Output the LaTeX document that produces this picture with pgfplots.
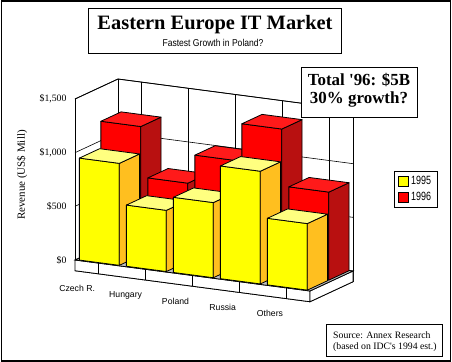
\documentclass[border=0pt]{standalone}
\usepackage{graphicx}
\usepackage{pgfplots}
\pgfplotsset{compat=1.18}
\usepackage{fontspec}
\setmainfont{Liberation Serif}
\setsansfont{Liberation Sans}
\definecolor{Yfront}{HTML}{FFFF00}
\definecolor{Ytop}{HTML}{FFFF80}
\definecolor{Yside}{HTML}{FFBF1F}
\definecolor{Rfront}{HTML}{FF0000}
\definecolor{Rtop}{HTML}{FF1A1A}
\definecolor{Rside}{HTML}{B81010}
\definecolor{Floor}{HTML}{C0C0C0}
% cuboid: x0 x1 y0 y1 value colourset
\newcommand{\cuboid}[6]{%
 \addplot3[fill=#6front,draw=black,line width=0.8pt,line join=round,forget plot] coordinates {(#1,#3,0) (#2,#3,0) (#2,#3,#5) (#1,#3,#5)} --cycle;
 \addplot3[fill=#6side,draw=black,line width=0.8pt,line join=round,forget plot] coordinates {(#2,#3,0) (#2,#4,0) (#2,#4,#5) (#2,#3,#5)} --cycle;
 \addplot3[fill=#6top,draw=black,line width=0.8pt,line join=round,forget plot] coordinates {(#1,#3,#5) (#2,#3,#5) (#2,#4,#5) (#1,#4,#5)} --cycle;
}
\begin{document}
\begin{tikzpicture}
\useasboundingbox (0,0) rectangle (452bp,362bp);
\fill[white] (0,0) rectangle (452bp,362bp);
\begin{axis}[
 anchor=origin, at={(98.5bp,98.9bp)},
 x={(47bp,-6.2bp)}, y={(43bp,20bp)}, z={(0bp,0.10733bp)},
 xmin=-0.5, xmax=4.5, ymin=0, ymax=1, zmin=-100, zmax=1500,
 clip=false,
 xtick={0,1,2,3,4}, xticklabels={Czech R.,Hungary,Poland,Russia,Others},
 ytick=\empty,
 ztick={0,500,1000,1500},
 zticklabels={{\$0},{\$500},{\$1,000},{\$1,500}},
 zmajorgrids, grid style={black, line width=0.6pt},
 axis line style={black, line width=0.8pt},
 major tick length=0pt,
 xticklabel style={font=\sffamily\fontsize{8.7}{10}\selectfont, anchor=north east, yshift=-8bp},
 zticklabel style={font=\fontsize{9.8}{11}\selectfont, anchor=east, xshift=-5bp},
 legend style={at={(axis cs:6.287,0,1221)}, anchor=north west, draw=black, line width=0.8pt,
   font=\sffamily\fontsize{12}{13}\selectfont, inner xsep=4bp, inner ysep=3bp, row sep=2bp, cells={anchor=west}},
 legend image code/.code={\draw[#1, line width=0.8pt] (0bp,-5bp) rectangle (10bp,5bp);},
]
% back wall vertical lines at category centres
\pgfplotsinvokeforeach{0,1,2,3,4}{
 \addplot3[black, line width=0.6pt, forget plot] coordinates {(#1,1,0) (#1,1,1500)};
}
% floor slab
\addplot3[fill=white, draw=black, line width=0.8pt, forget plot] coordinates {(-0.5,0,-100) (4.5,0,-100) (4.5,0,0) (-0.5,0,0)} --cycle;
\addplot3[fill=white, draw=black, line width=0.8pt, forget plot] coordinates {(4.5,0,-100) (4.5,1,-100) (4.5,1,0) (4.5,0,0)} --cycle;
\addplot3[fill=Floor, draw=black, line width=0.8pt, forget plot] coordinates {(-0.5,0,0) (4.5,0,0) (4.5,1,0) (-0.5,1,0)} --cycle;
\pgfplotsinvokeforeach{0,1,2,3,4}{
 \addplot3[black, line width=0.6pt, forget plot] coordinates {(#1,0,-100) (#1,0,0)};
}
% 1996 (back row)
\cuboid{-0.425}{0.425}{0.52}{0.99}{1200}{R}
\cuboid{0.575}{1.425}{0.52}{0.99}{730}{R}
\cuboid{1.575}{2.425}{0.52}{0.99}{1000}{R}
\cuboid{2.575}{3.425}{0.52}{0.99}{1350}{R}
\cuboid{3.575}{4.425}{0.52}{0.99}{820}{R}
% 1995 (front row)
\cuboid{-0.425}{0.425}{0.02}{0.49}{950}{Y}
\cuboid{0.575}{1.425}{0.02}{0.49}{570}{Y}
\cuboid{1.575}{2.425}{0.02}{0.49}{700}{Y}
\cuboid{2.575}{3.425}{0.02}{0.49}{1050}{Y}
\cuboid{3.575}{4.425}{0.02}{0.49}{620}{Y}
\addlegendimage{fill=Yfront, draw=black}
\addlegendentry{\scalebox{0.75}[1]{1995}}
\addlegendimage{fill=Rfront, draw=black}
\addlegendentry{\scalebox{0.75}[1]{1996}}
\end{axis}
% title
\draw[fill=white, line width=0.8bp] (88bp,309bp) rectangle (341bp,354bp);
\node[font=\bfseries\fontsize{20.5}{22}\selectfont] at (215bp,337bp) {Eastern Europe IT Market};
\node[font=\sffamily\fontsize{10}{11}\selectfont] at (213bp,319bp) {\scalebox{0.86}[1]{Fastest Growth in Poland?}};
% annotation
\draw[fill=white, line width=0.8bp] (301bp,245bp) rectangle (417bp,295bp);
\node[font=\bfseries\fontsize{17}{18}\selectfont] at (359bp,282bp) {Total \textquotesingle96: \$5B};
\node[font=\bfseries\fontsize{17}{18}\selectfont] at (359bp,263bp) {30\% growth?};
% source
\draw[fill=white, line width=0.8bp] (326bp,6bp) rectangle (442bp,38bp);
\node[font=\fontsize{9.8}{11}\selectfont, anchor=west, inner sep=0pt] at (333bp,27bp) {Source: Annex Research};
\node[font=\fontsize{9.8}{11}\selectfont, anchor=west, inner sep=0pt] at (333bp,15bp) {(based on IDC\textquotesingle s 1994 est.)};
% y label
\node[font=\fontsize{11}{12}\selectfont, rotate=90] at (22bp,187bp) {Revenue (US\$ Mill)};
% frame
\draw[line width=1.5bp] (1.25bp,1.25bp) rectangle (450.5bp,360.75bp);
\end{tikzpicture}
\end{document}
